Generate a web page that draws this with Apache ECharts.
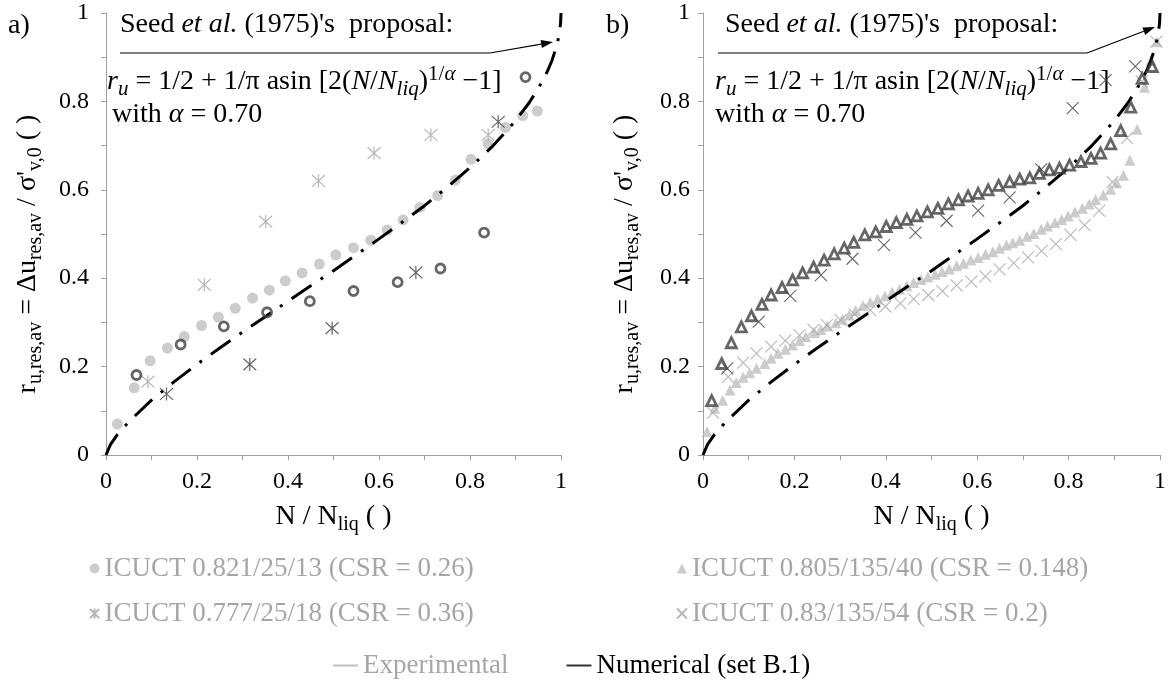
<!DOCTYPE html>
<html>
<head>
<meta charset="utf-8">
<script src="https://cdn.jsdelivr.net/npm/echarts@6/dist/echarts.min.js"></script>
<style>
  html, body { margin: 0; padding: 0; background: #ffffff; }
  #chart { width: 1169px; height: 683px; }
</style>
</head>
<body>
<div id="chart"></div>
<script>
// ---------- data ----------
const tickLabels = ['0', '0.2', '0.4', '0.6', '0.8', '1'];

// Seed et al. (1975) pore-pressure curve, alpha = 0.70
const seedX = [0, 0.01, 0.025, 0.05, 0.1, 0.15, 0.2, 0.25, 0.3, 0.35, 0.4, 0.45, 0.5, 0.55, 0.6, 0.65, 0.7, 0.75, 0.8, 0.85, 0.9, 0.93, 0.95, 0.97, 0.98, 0.99, 0.995, 0.999, 1];
const seedY = [0, 0.024, 0.046, 0.075, 0.124, 0.166, 0.205, 0.242, 0.278, 0.313, 0.348, 0.383, 0.417, 0.453, 0.489, 0.526, 0.564, 0.606, 0.650, 0.699, 0.756, 0.797, 0.829, 0.868, 0.892, 0.924, 0.946, 0.976, 1];

// a) ICUCT 0.821/25/13 (CSR = 0.26)
const a1ExpX = [0.025, 0.062, 0.097, 0.135, 0.172, 0.210, 0.247, 0.284, 0.322, 0.359, 0.394, 0.431, 0.469, 0.505, 0.544, 0.582, 0.618, 0.653, 0.690, 0.729, 0.768, 0.802, 0.840, 0.878, 0.916, 0.948];
const a1ExpY = [0.070, 0.152, 0.213, 0.242, 0.268, 0.293, 0.312, 0.332, 0.355, 0.373, 0.394, 0.412, 0.432, 0.453, 0.469, 0.486, 0.509, 0.532, 0.560, 0.587, 0.622, 0.669, 0.704, 0.741, 0.768, 0.778];
const a1NumX = [0.067, 0.164, 0.259, 0.354, 0.448, 0.544, 0.641, 0.735, 0.831, 0.922];
const a1NumY = [0.181, 0.250, 0.291, 0.323, 0.348, 0.371, 0.391, 0.422, 0.503, 0.855];

// a) ICUCT 0.777/25/18 (CSR = 0.36)
const a2ExpX = [0.092, 0.216, 0.351, 0.467, 0.589, 0.714, 0.840];
const a2ExpY = [0.166, 0.385, 0.528, 0.620, 0.683, 0.724, 0.724];
const a2NumX = [0.133, 0.316, 0.497, 0.681, 0.862];
const a2NumY = [0.138, 0.205, 0.287, 0.413, 0.754];

// b) ICUCT 0.805/135/40 (CSR = 0.148)
const b1ExpX = [0.009, 0.026, 0.043, 0.059, 0.073, 0.088, 0.102, 0.117, 0.135, 0.149, 0.164, 0.180, 0.196, 0.211, 0.225, 0.243, 0.258, 0.272, 0.291, 0.305, 0.320, 0.334, 0.350, 0.366, 0.382, 0.398, 0.414, 0.430, 0.446, 0.461, 0.477, 0.492, 0.508, 0.523, 0.539, 0.555, 0.570, 0.586, 0.602, 0.618, 0.634, 0.649, 0.664, 0.678, 0.693, 0.709, 0.724, 0.740, 0.754, 0.770, 0.785, 0.799, 0.814, 0.830, 0.845, 0.859, 0.876, 0.892, 0.905, 0.920, 0.934, 0.950, 0.966, 0.980, 0.993];
const b1ExpY = [0.053, 0.106, 0.124, 0.147, 0.164, 0.176, 0.186, 0.196, 0.207, 0.219, 0.230, 0.239, 0.249, 0.259, 0.268, 0.277, 0.284, 0.292, 0.299, 0.307, 0.317, 0.327, 0.338, 0.346, 0.353, 0.360, 0.368, 0.375, 0.383, 0.390, 0.397, 0.403, 0.409, 0.415, 0.421, 0.428, 0.434, 0.441, 0.447, 0.454, 0.460, 0.468, 0.475, 0.480, 0.486, 0.495, 0.501, 0.511, 0.518, 0.526, 0.533, 0.541, 0.550, 0.558, 0.568, 0.578, 0.588, 0.601, 0.616, 0.633, 0.667, 0.737, 0.832, 0.893, 0.935];
const b1NumX = [0.019, 0.041, 0.062, 0.084, 0.106, 0.129, 0.149, 0.173, 0.196, 0.218, 0.242, 0.265, 0.287, 0.309, 0.330, 0.354, 0.378, 0.401, 0.423, 0.446, 0.468, 0.491, 0.514, 0.537, 0.559, 0.580, 0.602, 0.624, 0.647, 0.671, 0.693, 0.715, 0.736, 0.758, 0.780, 0.802, 0.827, 0.849, 0.870, 0.892, 0.914, 0.936, 0.961, 0.983];
const b1NumY = [0.123, 0.207, 0.254, 0.290, 0.315, 0.341, 0.362, 0.379, 0.396, 0.412, 0.425, 0.441, 0.455, 0.468, 0.481, 0.498, 0.505, 0.517, 0.526, 0.533, 0.541, 0.550, 0.558, 0.568, 0.577, 0.586, 0.592, 0.600, 0.610, 0.618, 0.624, 0.627, 0.637, 0.645, 0.649, 0.656, 0.664, 0.671, 0.683, 0.704, 0.734, 0.787, 0.852, 0.879];

// b) ICUCT 0.83/135/54 (CSR = 0.2)
const b2ExpX = [0.022, 0.055, 0.088, 0.117, 0.149, 0.180, 0.211, 0.242, 0.271, 0.301, 0.332, 0.366, 0.399, 0.432, 0.461, 0.493, 0.524, 0.555, 0.587, 0.618, 0.649, 0.680, 0.711, 0.741, 0.772, 0.804, 0.835, 0.867, 0.896, 0.928, 0.960, 0.992];
const b2ExpY = [0.096, 0.177, 0.209, 0.230, 0.245, 0.259, 0.271, 0.283, 0.294, 0.305, 0.318, 0.328, 0.336, 0.343, 0.353, 0.362, 0.371, 0.384, 0.392, 0.404, 0.420, 0.434, 0.447, 0.462, 0.477, 0.498, 0.520, 0.553, 0.618, 0.717, 0.845, 0.935];
const b2NumX = [0.053, 0.122, 0.191, 0.258, 0.327, 0.396, 0.465, 0.533, 0.602, 0.671, 0.740, 0.809, 0.881, 0.946];
const b2NumY = [0.196, 0.302, 0.360, 0.407, 0.444, 0.475, 0.503, 0.530, 0.553, 0.583, 0.646, 0.785, 0.848, 0.879];

const nameA1 = 'ICUCT 0.821/25/13 (CSR = 0.26)';
const nameA2 = 'ICUCT 0.777/25/18 (CSR = 0.36)';
const nameB1 = 'ICUCT 0.805/135/40 (CSR = 0.148)';
const nameB2 = 'ICUCT 0.83/135/54 (CSR = 0.2)';

// ---------- styling ----------
const FONT = 'Liberation Serif';
const LIGHT = '#bfbfbf';
const LIGHT_TEXT = '#a6a6a6';
const DARK = '#404040';
const AXIS = '#a0a0a0';
const STAR = 'path://M0,0L10,10M10,0L0,10M5,-0.5L5,10.5';
const CROSS = 'path://M0,0L10,10M10,0L0,10';

const pairs = (xs, ys) => xs.map((x, i) => [x, ys[i]]);

// rich-text styles: n = normal, i = italic, s/si = subscript, sup/supi = superscript
function makeRich(main, small, lh, shift) {
  const sub = { fontFamily: FONT, fontSize: small, lineHeight: small, padding: [shift, 0, 0, 0], color: '#000' };
  const sup = { fontFamily: FONT, fontSize: small, lineHeight: small, padding: [0, 0, shift, 0], color: '#000' };
  return {
    n: { fontFamily: FONT, fontSize: main, lineHeight: lh, color: '#000' },
    i: { fontFamily: FONT, fontSize: main, lineHeight: lh, fontStyle: 'italic', color: '#000' },
    s: sub,
    si: Object.assign({}, sub, { fontStyle: 'italic' }),
    sup: sup,
    supi: Object.assign({}, sup, { fontStyle: 'italic' })
  };
}
const axisRich = makeRich(28, 20, 32, 15);
const noteRich = makeRich(28, 21, 32, 15);

function xAxisFor(gridIndex) {
  return {
    type: 'value', gridIndex: gridIndex, min: 0, max: 1, interval: 0.2,
    name: '{n|N / N}{s|liq}{n| ( )}', nameLocation: 'middle', nameGap: 46,
    nameTextStyle: { rich: axisRich },
    axisLine: { lineStyle: { color: AXIS, width: 1 } },
    axisTick: { show: true, length: 5, lineStyle: { color: AXIS } },
    minorTick: { show: true, splitNumber: 2, length: 5, lineStyle: { color: AXIS } },
    splitLine: { show: false },
    axisLabel: { color: '#000', fontFamily: FONT, fontSize: 24, margin: 15,
      formatter: v => tickLabels[Math.round(v / 0.2)] }
  };
}
function yAxisFor(gridIndex, gap, labelMargin) {
  return {
    type: 'value', gridIndex: gridIndex, min: 0, max: 1, interval: 0.2,
    name: '{n|r}{s|u,res,av}{n| = Δu}{s|res,av}{n| / σ\'}{s|v,0}{n| ( )}',
    nameLocation: 'middle', nameRotate: 90, nameGap: gap,
    nameTextStyle: { rich: axisRich, padding: [0, 40, 0, 0] },
    axisLine: { show: true, lineStyle: { color: AXIS, width: 1 } },
    axisTick: { show: true, length: 5, lineStyle: { color: AXIS } },
    minorTick: { show: true, splitNumber: 2, length: 5, lineStyle: { color: AXIS } },
    splitLine: { show: false },
    axisLabel: { color: '#000', fontFamily: FONT, fontSize: 24, margin: labelMargin,
      formatter: v => tickLabels[Math.round(v / 0.2)] }
  };
}

function seedSeries(idx) {
  return {
    name: 'Seed et al. (1975)', type: 'line', xAxisIndex: idx, yAxisIndex: idx,
    data: pairs(seedX, seedY), symbol: 'none', smooth: false, z: 3,
    lineStyle: { color: '#000', width: 3, type: [24, 11, 3, 11], cap: 'butt' }
  };
}

// arrow from the proposal label to the curve
function arrow(x1, y1, x2, y2) {
  const ang = Math.atan2(y2 - y1, x2 - x1);
  const L = 12, W = 4;
  const bx = x2 - L * Math.cos(ang), by = y2 - L * Math.sin(ang);
  const px = -Math.sin(ang) * W, py = Math.cos(ang) * W;
  return [
    { type: 'line', shape: { x1: x1, y1: y1, x2: bx, y2: by }, style: { stroke: '#000', lineWidth: 1.2 } },
    { type: 'polygon', shape: { points: [[x2, y2], [bx + px, by + py], [bx - px, by - py]] }, style: { fill: '#000' } }
  ];
}

function annotation(left, titleY, lineX1, lineX2, lineY, arrowEnd, formulaX, formulaY, withX, withY) {
  return [
    { type: 'text', left: left, top: titleY, style: {
      text: '{n|Seed }{i|et al.}{n| (1975)\'s  proposal:}', rich: noteRich } },
    { type: 'line', shape: { x1: lineX1, y1: lineY, x2: lineX2, y2: lineY }, style: { stroke: '#000', lineWidth: 1.2 } },
    ...arrow(lineX2, lineY, arrowEnd[0], arrowEnd[1]),
    { type: 'text', left: formulaX, top: formulaY, style: {
      text: '{i|r}{si|u}{n| = 1/2 + 1/π asin [2(}{i|N}{n|/}{i|N}{si|liq}{n|)}{sup|1/}{supi|α}{n| −1]}', rich: noteRich } },
    { type: 'text', left: withX, top: withY, style: {
      text: '{n|with }{i|α}{n| = 0.70}', rich: noteRich } }
  ];
}

const legendText = { color: LIGHT_TEXT, fontFamily: FONT, fontSize: 27 };

const option = {
  animation: false,
  backgroundColor: '#ffffff',
  grid: [
    { left: 106, top: 13, width: 455, height: 442 },
    { left: 703, top: 13, width: 460, height: 442 }
  ],
  xAxis: [xAxisFor(0), xAxisFor(1)],
  yAxis: [yAxisFor(0, 62, 17), yAxisFor(1, 62, 13)],
  legend: [
    { orient: 'vertical', left: 84, top: 550, itemWidth: 10, itemHeight: 10, itemGap: 18,
      textStyle: legendText, data: [nameA1, nameA2] },
    { orient: 'vertical', left: 671, top: 550, itemWidth: 10, itemHeight: 10, itemGap: 18,
      textStyle: legendText, data: [nameB1, nameB2] },
    { orient: 'horizontal', left: 328, top: 647, itemWidth: 25, itemHeight: 2, itemGap: 58,
      textStyle: legendText, icon: 'rect',
      data: [{ name: 'Experimental' }, { name: 'Numerical (set B.1)', textStyle: { color: '#000' } }] }
  ],
  series: [
    // panel a
    { name: nameA1, type: 'scatter', xAxisIndex: 0, yAxisIndex: 0, data: pairs(a1ExpX, a1ExpY),
      symbol: 'circle', symbolSize: 11, itemStyle: { color: LIGHT }, z: 2 },
    { name: nameA2, type: 'scatter', xAxisIndex: 0, yAxisIndex: 0, data: pairs(a2ExpX, a2ExpY),
      symbol: STAR, symbolSize: 13, itemStyle: { color: 'rgba(0,0,0,0)', borderColor: LIGHT_TEXT, borderWidth: 1.2 }, z: 2 },
    seedSeries(0),
    { name: nameA1 + ' numerical', type: 'scatter', xAxisIndex: 0, yAxisIndex: 0, data: pairs(a1NumX, a1NumY),
      symbol: 'circle', symbolSize: 9, itemStyle: { color: 'rgba(255,255,255,0)', borderColor: DARK, borderWidth: 2.8 }, z: 4 },
    { name: nameA2 + ' numerical', type: 'scatter', xAxisIndex: 0, yAxisIndex: 0, data: pairs(a2NumX, a2NumY),
      symbol: STAR, symbolSize: 13, itemStyle: { color: 'rgba(0,0,0,0)', borderColor: DARK, borderWidth: 1.2 }, z: 4 },
    // panel b
    { name: nameB1, type: 'scatter', xAxisIndex: 1, yAxisIndex: 1, data: pairs(b1ExpX, b1ExpY),
      symbol: 'triangle', symbolSize: 11, itemStyle: { color: LIGHT }, z: 2 },
    { name: nameB2, type: 'scatter', xAxisIndex: 1, yAxisIndex: 1, data: pairs(b2ExpX, b2ExpY),
      symbol: CROSS, symbolSize: 12, itemStyle: { color: 'rgba(0,0,0,0)', borderColor: LIGHT_TEXT, borderWidth: 1.1 }, z: 2 },
    seedSeries(1),
    { name: nameB1 + ' numerical', type: 'scatter', xAxisIndex: 1, yAxisIndex: 1, data: pairs(b1NumX, b1NumY),
      symbol: 'triangle', symbolSize: 10, itemStyle: { color: 'rgba(255,255,255,0)', borderColor: DARK, borderWidth: 2.8 }, z: 4 },
    { name: nameB2 + ' numerical', type: 'scatter', xAxisIndex: 1, yAxisIndex: 1, data: pairs(b2NumX, b2NumY),
      symbol: CROSS, symbolSize: 12, itemStyle: { color: 'rgba(0,0,0,0)', borderColor: DARK, borderWidth: 1.1 }, z: 4 },
    // legend entries for the two kinds of result
    { name: 'Experimental', type: 'line', xAxisIndex: 0, yAxisIndex: 0, data: [], symbol: 'none',
      lineStyle: { color: LIGHT, width: 2 }, itemStyle: { color: LIGHT } },
    { name: 'Numerical (set B.1)', type: 'line', xAxisIndex: 0, yAxisIndex: 0, data: [], symbol: 'none',
      lineStyle: { color: '#333', width: 2 }, itemStyle: { color: '#333' } }
  ],
  graphic: [
    { type: 'text', left: 8, top: 12, style: { text: 'a)', fontFamily: FONT, fontSize: 28, fill: '#000' } },
    { type: 'text', left: 606, top: 12, style: { text: 'b)', fontFamily: FONT, fontSize: 28, fill: '#000' } },
    ...annotation(120, 11, 120, 490, 53, [553, 42], 107, 64, 112, 101),
    ...annotation(725, 11, 718, 1087, 53, [1155, 27], 715, 64, 715, 101)
  ]
};

const chart = echarts.init(document.getElementById('chart'), null, { renderer: 'canvas' });
chart.setOption(option);
</script>
</body>
</html>
